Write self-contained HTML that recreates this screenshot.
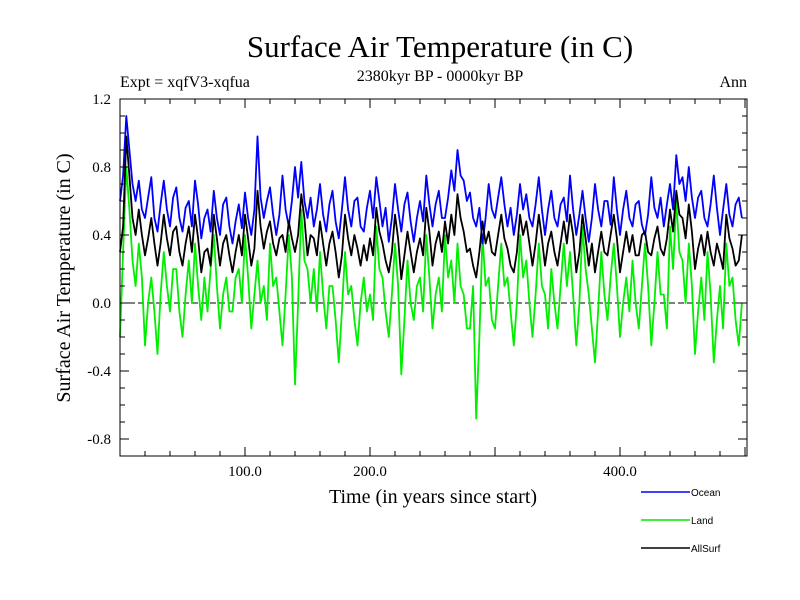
<!DOCTYPE html>
<html><head><meta charset="utf-8"><style>
body{margin:0;background:#fff;width:800px;height:600px;overflow:hidden}
svg{display:block}
.s{font-family:"Liberation Serif",serif;fill:#000}
.l{font-family:"Liberation Sans",sans-serif;font-size:10px;fill:#000}
</style></head><body>
<svg id="c" width="800" height="600">
<text class="s" x="440" y="57" font-size="31" text-anchor="middle">Surface Air Temperature (in C)</text>
<text class="s" x="440" y="81" font-size="16" text-anchor="middle">2380kyr BP - 0000kyr BP</text>
<text class="s" x="120" y="87" font-size="16">Expt = xqfV3-xqfua</text>
<text class="s" x="747" y="87" font-size="16" text-anchor="end">Ann</text>
<text class="s" x="0" y="0" font-size="20" text-anchor="middle" transform="translate(70,278) rotate(-90)">Surface Air Temperature (in C)</text>
<text class="s" x="433" y="503" font-size="20" text-anchor="middle">Time (in years since start)</text>
<g id="plot"></g>
<g id="legend"></g>
</svg>
<script>
const years=[];for(let i=0;i<200;i++)years.push(i*2.5);
const ocean=[0.6,0.75,1.1,0.9,0.7,0.6,0.72,0.55,0.5,0.62,0.74,0.5,0.42,0.58,0.72,0.55,0.45,0.62,0.68,0.5,
0.42,0.56,0.6,0.45,0.72,0.58,0.38,0.5,0.55,0.42,0.66,0.5,0.4,0.58,0.62,0.45,0.35,0.48,0.58,0.44,
0.65,0.5,0.4,0.55,0.98,0.62,0.5,0.6,0.68,0.52,0.4,0.52,0.75,0.55,0.45,0.6,0.8,0.62,0.83,0.6,
0.5,0.62,0.45,0.55,0.7,0.52,0.42,0.58,0.66,0.48,0.38,0.55,0.74,0.55,0.45,0.6,0.62,0.45,0.42,0.56,
0.66,0.5,0.74,0.6,0.45,0.56,0.36,0.5,0.7,0.55,0.42,0.58,0.65,0.48,0.36,0.5,0.6,0.48,0.75,0.58,
0.45,0.58,0.66,0.5,0.5,0.62,0.78,0.66,0.9,0.75,0.72,0.6,0.65,0.5,0.45,0.56,0.35,0.5,0.7,0.55,
0.5,0.62,0.74,0.58,0.45,0.56,0.4,0.52,0.7,0.55,0.64,0.5,0.45,0.58,0.74,0.55,0.4,0.55,0.66,0.5,
0.45,0.58,0.62,0.48,0.75,0.55,0.4,0.52,0.66,0.5,0.36,0.5,0.7,0.55,0.45,0.6,0.6,0.46,0.74,0.55,
0.4,0.55,0.66,0.5,0.45,0.58,0.6,0.46,0.4,0.52,0.74,0.56,0.5,0.62,0.45,0.58,0.7,0.55,0.87,0.7,
0.74,0.6,0.8,0.62,0.5,0.62,0.66,0.5,0.45,0.58,0.75,0.56,0.4,0.55,0.7,0.52,0.45,0.58,0.62,0.5];
const land=[-0.2,0.3,0.8,0.55,0.25,0.1,0.35,0.15,-0.25,0.0,0.15,-0.05,-0.3,0.05,0.3,0.1,-0.05,0.2,0.2,-0.05,
-0.2,0.05,0.25,0.0,0.35,0.1,-0.1,0.15,-0.05,0.2,0.4,0.1,-0.15,0.05,0.15,-0.05,-0.05,0.15,0.2,0.0,
0.4,0.15,-0.15,0.05,0.25,0.0,0.1,-0.1,0.35,0.1,0.15,-0.05,-0.25,0.05,0.4,0.15,-0.48,0.0,0.55,0.25,
0.2,0.0,0.2,-0.05,0.3,0.05,-0.15,0.1,0.1,-0.1,-0.35,-0.05,0.3,0.05,0.1,-0.1,-0.25,0.0,0.15,-0.05,
0.05,-0.1,0.45,0.2,0.15,-0.05,-0.2,0.05,0.35,0.1,-0.42,-0.1,0.25,0.0,-0.1,0.1,0.15,-0.05,0.4,0.15,
-0.15,0.05,0.15,-0.05,0.4,0.15,0.25,0.0,0.35,0.1,0.05,-0.15,-0.15,0.1,-0.68,-0.2,0.4,0.1,0.15,-0.1,
-0.15,0.1,0.35,0.1,0.15,-0.05,-0.25,0.0,0.4,0.15,0.25,0.0,-0.2,0.05,0.35,0.1,0.05,-0.15,0.2,0.0,
-0.15,0.1,0.35,0.1,0.3,0.05,-0.25,0.0,0.45,0.2,0.05,-0.15,-0.35,-0.05,0.3,0.05,-0.1,0.15,0.35,0.1,
-0.2,0.0,0.15,-0.05,0.25,0.0,-0.15,0.1,0.35,0.1,-0.25,0.0,0.3,0.05,0.05,-0.15,0.45,0.2,0.6,0.3,
0.25,0.0,0.35,0.1,-0.3,-0.05,0.15,-0.1,0.3,0.05,-0.35,-0.1,0.1,-0.15,0.35,0.1,0.15,-0.1,-0.25,0.0];
const allsurf=[0.3,0.45,0.98,0.75,0.5,0.4,0.55,0.4,0.28,0.38,0.5,0.35,0.22,0.35,0.52,0.38,0.28,0.42,0.45,0.3,
0.22,0.35,0.45,0.3,0.52,0.38,0.18,0.3,0.32,0.22,0.52,0.38,0.22,0.35,0.4,0.28,0.18,0.3,0.4,0.28,
0.52,0.38,0.22,0.32,0.66,0.45,0.32,0.42,0.48,0.35,0.28,0.38,0.4,0.3,0.48,0.38,0.3,0.4,0.64,0.5,
0.28,0.4,0.38,0.28,0.48,0.35,0.22,0.35,0.42,0.3,0.15,0.28,0.52,0.38,0.28,0.4,0.32,0.22,0.34,0.25,
0.38,0.28,0.56,0.42,0.35,0.25,0.18,0.3,0.52,0.38,0.14,0.28,0.42,0.3,0.18,0.3,0.38,0.28,0.56,0.42,
0.22,0.35,0.42,0.3,0.48,0.35,0.52,0.4,0.64,0.5,0.42,0.3,0.32,0.22,0.15,0.3,0.48,0.35,0.42,0.3,
0.28,0.4,0.52,0.38,0.32,0.22,0.18,0.3,0.52,0.4,0.48,0.35,0.22,0.35,0.52,0.38,0.22,0.35,0.42,0.3,
0.22,0.35,0.48,0.35,0.52,0.4,0.18,0.3,0.52,0.38,0.22,0.35,0.18,0.3,0.42,0.3,0.28,0.4,0.52,0.38,
0.18,0.3,0.42,0.3,0.4,0.28,0.28,0.4,0.42,0.3,0.28,0.38,0.45,0.32,0.28,0.38,0.55,0.42,0.66,0.52,
0.5,0.38,0.58,0.42,0.2,0.32,0.4,0.28,0.42,0.3,0.22,0.35,0.28,0.2,0.52,0.38,0.32,0.22,0.25,0.4];
const yTicks=[-0.8,-0.4,0.0,0.4,0.8,1.2];
const yTickLabels=["-0.8","-0.4","0.0","0.4","0.8","1.2"];
const xTicks=[100,200,400];
const xTickLabels=["100.0","200.0","400.0"];
const seriesNames=["Ocean","Land","AllSurf"];

const L=120,R=747,T=99,B=456,X0=0,X1=501.6,Y0=-0.9,Y1=1.2;
const xs=v=>L+(v-X0)/(X1-X0)*(R-L);
const ys=v=>B-(v-Y0)/(Y1-Y0)*(B-T);
const NS="http://www.w3.org/2000/svg";
const plot=document.getElementById('plot');
function mk(t,a,p){const e=document.createElementNS(NS,t);for(const k in a)e.setAttribute(k,a[k]);(p||plot).appendChild(e);return e;}

const z=mk('line',{x1:L,x2:R,y1:ys(0),y2:ys(0),stroke:'#000','stroke-width':1,'stroke-dasharray':'6,3'});



const cols=['#0000ff','#00ee00','#000000'];
const data=[ocean,land,allsurf];
[1,0,2].forEach(k=>{
  const pts=data[k].map((v,i)=>xs(years[i]).toFixed(1)+','+ys(v).toFixed(1)).join(' ');
  const pl=mk('polyline',{points:pts,fill:'none',stroke:cols[k],'stroke-width':1.8,'stroke-linejoin':'round'});
  
  
});

const fr=mk('rect',{x:L,y:T,width:R-L,height:B-T,fill:'none',stroke:'#000','stroke-width':1});


for(let v=-0.9;v<=1.2001;v+=0.1){const y=ys(v);
  mk('line',{x1:L,x2:L+5,y1:y,y2:y,stroke:'#000'});mk('line',{x1:R,x2:R-5,y1:y,y2:y,stroke:'#000'});}
for(let v=20;v<X1;v+=20){const x=xs(v),mj=v%100===0?9:5;
  mk('line',{x1:x,x2:x,y1:B,y2:B-mj,stroke:'#000'});mk('line',{x1:x,x2:x,y1:T,y2:T+mj,stroke:'#000'});}
yTicks.forEach((v,i)=>{const y=ys(v);
  mk('line',{x1:L,x2:L+9,y1:y,y2:y,stroke:'#000'});mk('line',{x1:R,x2:R-9,y1:y,y2:y,stroke:'#000'});
  const t=mk('text',{x:111,y:y+5,'text-anchor':'end','font-size':15,class:'s'});t.textContent=yTickLabels[i];
  
  });
xTicks.forEach((v,i)=>{const t=mk('text',{x:xs(v),y:476,'text-anchor':'middle','font-size':15,class:'s'});t.textContent=xTickLabels[i];
  
  });

const lg=document.getElementById('legend');
seriesNames.forEach((n,k)=>{const y=492+k*28;
  const g=mk('g',{},lg);
  
  
  mk('line',{x1:641,x2:690,y1:y,y2:y,stroke:cols[k],'stroke-width':1.5},g);
  const t=mk('text',{x:691,y:y+4,class:'l'},g);t.textContent=n;});
</script>
</body></html>
